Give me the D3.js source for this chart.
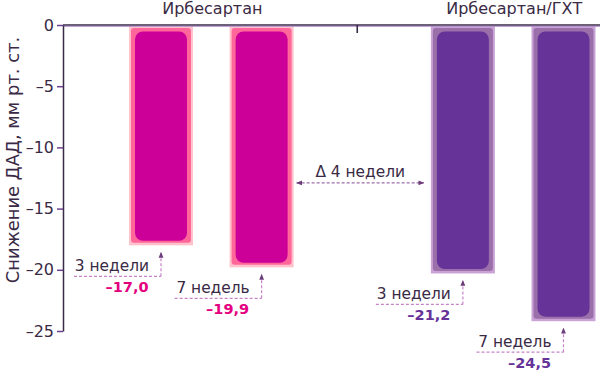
<!DOCTYPE html>
<html><head><meta charset="utf-8">
<script src="https://cdn.jsdelivr.net/npm/d3@7"></script>
<style>body{margin:0;background:#fff}svg{display:block}text{font-family:"DejaVu Sans",sans-serif}</style>
</head><body>
<svg id="chart" width="600" height="374"></svg>
<script>
// ---- data ----
const slots = ["irb3", "irb7", "sep", "hct3", "hct7"];
const barKeys = ["irb3", "irb7", "hct3", "hct7"];
const groups = ["Ирбесартан", "Ирбесартан", null, "Ирбесартан/ГХТ", "Ирбесартан/ГХТ"];
const periodLabels = ["3 недели", "7 недель", "3 недели", "7 недель"];
const barValues = [-18.0, -19.8, -20.3, -24.2];          // bar ends as drawn
const valueLabels = ["–17,0", "–19,9", "–21,2", "–24,5"]; // printed values
const barGroup = [0, 0, 1, 1];
const yTicks = [0, -5, -10, -15, -20, -25];
const yTitle = "Снижение ДАД, мм рт. ст.";
const deltaLabel = "Δ 4 недели";

// ---- styles ----
const pal = [
  {light: "#ffc2cc", mid: "#ff6699", inner: "#cc0099", val: "#e4007f"},
  {light: "#c9a3d6", mid: "#9b6fa9", inner: "#663399", val: "#663399"}
];
const ink = "#3a2a45";
const dashCol = "#c784c9";

const svg = d3.select("#chart");
const y = d3.scaleLinear().domain([0, -25]).range([25, 331]);
const x = d3.scalePoint().domain(slots).range([161, 563.5]);
const axisX = 63, bw = 64;

// defs: arrow markers
const defs = svg.append("defs");
function marker(id, color, orient) {
  defs.append("marker").attr("id", id).attr("viewBox", "0 0 10 10")
    .attr("refX", 9).attr("refY", 5).attr("markerWidth", 5).attr("markerHeight", 5)
    .attr("orient", orient)
    .append("path").attr("d", "M0,1 L10,5 L0,9 Z").attr("fill", color);
}
marker("arr", "#6a3d7a", "auto");
marker("arrS", "#6a3d7a", "auto-start-reverse");

// bars
const bars = svg.append("g");
barKeys.forEach((k, i) => {
  const c = x(k), p = pal[barGroup[i]], yb = y(barValues[i]), yt = y(0) + 1.5;
  bars.append("rect").attr("x", c - bw / 2).attr("y", yt).attr("width", bw).attr("height", yb - yt).attr("fill", p.light);
  bars.append("rect").attr("x", c - bw / 2 + 2).attr("y", yt + 1.5).attr("width", bw - 4).attr("height", yb - yt - 4)
    .attr("rx", 3).attr("fill", p.mid);
  bars.append("rect").attr("x", c - bw / 2 + 6).attr("y", yt + 5).attr("width", bw - 12).attr("height", yb - yt - 9.5)
    .attr("rx", 8).attr("fill", p.inner);
});

// top axis line + separator tick
svg.append("line").attr("x1", axisX).attr("x2", 600).attr("y1", y(0)).attr("y2", y(0))
  .attr("stroke", ink).attr("stroke-width", 1.6);
svg.append("line").attr("x1", axisX).attr("x2", 600).attr("y1", y(0) + 1.3).attr("y2", y(0) + 1.3)
  .attr("stroke", "#9b6fc0").attr("stroke-width", 0.8);
svg.append("line").attr("x1", x("sep") - 5).attr("x2", x("sep") - 5).attr("y1", y(0)).attr("y2", y(0) + 8)
  .attr("stroke", ink).attr("stroke-width", 1.6);

// y axis
const yAxis = svg.append("g").attr("transform", `translate(${axisX},0)`)
  .call(d3.axisLeft(y).tickValues(yTicks).tickSize(6).tickSizeOuter(0)
    .tickFormat(d => d === 0 ? "0" : "–" + Math.abs(d)));
yAxis.select(".domain").attr("stroke", ink).attr("stroke-width", 1.5);
yAxis.selectAll(".tick line").attr("stroke", "#6b3f8f").attr("stroke-width", 1.5);
yAxis.selectAll(".tick text").attr("fill", ink).attr("font-size", 16).attr("x", -9)
  .attr("font-family", "DejaVu Sans");

// y title
svg.append("text").attr("transform", `translate(19,${(y(0) + y(-25)) / 2 - 18}) rotate(-90)`)
  .attr("text-anchor", "middle").attr("font-size", 17.9).attr("fill", ink).text(yTitle);

// group labels
const groupNames = Array.from(new Set(groups.filter(g => g)));
groupNames.forEach(g => {
  const ks = slots.filter((s, i) => groups[i] === g);
  const cx = d3.mean(ks, k => x(k));
  svg.append("text").attr("x", cx + 1).attr("y", 14).attr("text-anchor", "middle")
    .attr("font-size", 16).attr("fill", ink).text(g);
});

// delta annotation
const dLeft = x("irb7") + bw / 2 + 3, dRight = x("hct3") - bw / 2 - 7, dY = y(-12.9);
svg.append("line").attr("x1", dLeft).attr("x2", dRight).attr("y1", dY).attr("y2", dY)
  .attr("stroke", "#9b6fa9").attr("stroke-width", 1.2).attr("stroke-dasharray", "3,2")
  .attr("marker-start", "url(#arrS)").attr("marker-end", "url(#arr)");
svg.append("text").attr("x", (dLeft + dRight) / 2).attr("y", dY - 6).attr("text-anchor", "middle")
  .attr("font-size", 15.4).attr("fill", ink).text(deltaLabel);

// bar annotations
barKeys.forEach((k, i) => {
  const c = x(k), yb = y(barValues[i]), ly = yb + 31;
  const g = svg.append("g");
  g.append("line").attr("x1", c - 87).attr("x2", c).attr("y1", ly).attr("y2", ly)
    .attr("stroke", dashCol).attr("stroke-width", 1.2).attr("stroke-dasharray", "3,2");
  g.append("line").attr("x1", c).attr("x2", c).attr("y1", ly).attr("y2", yb + 7)
    .attr("stroke", dashCol).attr("stroke-width", 1.2).attr("stroke-dasharray", "3,2")
    .attr("marker-end", "url(#arr)");
  g.append("text").attr("x", c - 12).attr("y", ly - 5).attr("text-anchor", "end")
    .attr("font-size", 15.4).attr("fill", ink).text(periodLabels[i]);
  g.append("text").attr("x", c - 12.5).attr("y", ly + 15.5).attr("text-anchor", "end")
    .attr("font-size", 14.5).attr("font-weight", "bold").attr("fill", pal[barGroup[i]].val).text(valueLabels[i]);
});
</script>
</body></html>
